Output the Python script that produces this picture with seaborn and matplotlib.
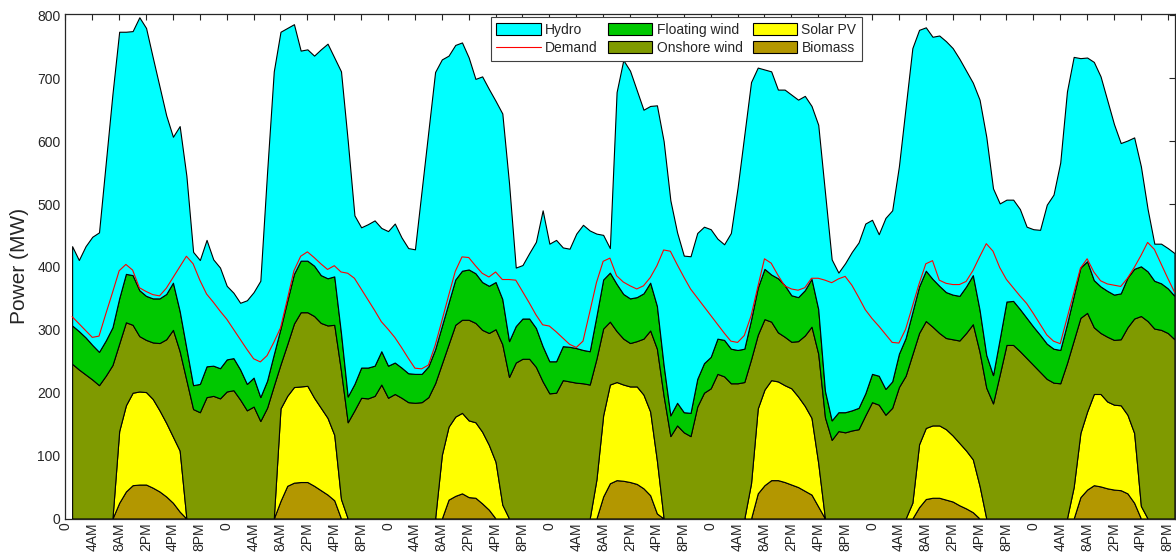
import numpy as np
import pandas as pd
import seaborn as sns
import matplotlib
matplotlib.use("Agg")
import matplotlib.pyplot as plt
from matplotlib.patches import Patch
from matplotlib.lines import Line2D

# hourly values (h = 1 .. 165), MW
hours = np.arange(1, 166)

biomass = [
    0, 0, 0, 0, 0, 0, 0, 25, 43, 53, 54, 54,
    49, 43, 35, 25, 11, 0, 0, 0, 0, 0, 0, 0,
    0, 0, 0, 0, 0, 0, 0, 28, 52, 57, 58, 58,
    52, 45, 38, 29, 0, 0, 0, 0, 0, 0, 0, 0,
    0, 0, 0, 0, 0, 0, 0, 0, 30, 36, 40, 34,
    33, 24, 14, 0, 0, 0, 0, 0, 0, 0, 0, 0,
    0, 0, 0, 0, 0, 0, 0, 35, 56, 61, 60, 58,
    55, 48, 37, 8, 0, 0, 0, 0, 0, 0, 0, 0,
    0, 0, 0, 0, 0, 0, 40, 53, 61, 61, 58, 54,
    50, 44, 38, 19, 0, 0, 0, 0, 0, 0, 0, 0,
    0, 0, 0, 0, 0, 0, 18, 31, 33, 33, 30, 27,
    21, 16, 10, 0, 0, 0, 0, 0, 0, 0, 0, 0,
    0, 0, 0, 0, 0, 0, 34, 46, 53, 51, 48, 46,
    45, 40, 25, 0, 0, 0, 0, 0, 0,
]

# upper edge of each stacked band
solar_top = [
    0, 0, 0, 0, 0, 0, 0, 139, 180, 200, 202, 201,
    190, 172, 152, 130, 108, 0, 0, 0, 0, 0, 0, 0,
    0, 0, 0, 0, 0, 0, 0, 175, 195, 209, 210, 211,
    192, 176, 160, 133, 31, 0, 0, 0, 0, 0, 0, 0,
    0, 0, 0, 0, 0, 0, 0, 101, 146, 162, 168, 156,
    153, 138, 117, 90, 22, 0, 0, 0, 0, 0, 0, 0,
    0, 0, 0, 0, 0, 0, 62, 164, 213, 217, 213, 210,
    210, 197, 170, 92, 0, 0, 0, 0, 0, 0, 0, 0,
    0, 0, 0, 0, 0, 56, 175, 205, 220, 218, 212, 207,
    194, 179, 160, 88, 0, 0, 0, 0, 0, 0, 0, 0,
    0, 0, 0, 0, 0, 25, 118, 144, 148, 148, 142, 132,
    120, 108, 94, 52, 0, 0, 0, 0, 0, 0, 0, 0,
    0, 0, 0, 0, 0, 50, 136, 170, 198, 198, 186, 181,
    180, 165, 136, 20, 0, 0, 0, 0, 0,
]

onshore_top = [
    246, 237, 229, 221, 212, 227, 244, 278, 312, 308, 290, 284,
    280, 279, 285, 300, 266, 220, 174, 169, 193, 195, 191, 202,
    204, 189, 172, 178, 155, 176, 211, 245, 277, 310, 328, 328,
    322, 311, 307, 308, 235, 153, 172, 192, 191, 195, 213, 192,
    198, 192, 185, 184, 185, 193, 215, 246, 277, 308, 316, 316,
    311, 300, 295, 301, 277, 225, 248, 254, 254, 241, 218, 199,
    200, 220, 218, 216, 215, 213, 254, 302, 313, 298, 286, 279,
    282, 286, 299, 270, 195, 131, 148, 137, 131, 178, 200, 207,
    230, 226, 215, 215, 217, 253, 292, 317, 313, 296, 289, 281,
    282, 291, 305, 262, 161, 125, 139, 137, 140, 142, 164, 185,
    181, 165, 176, 209, 227, 261, 295, 314, 305, 295, 287, 285,
    283, 295, 309, 265, 208, 183, 229, 276, 276, 266, 255, 244,
    233, 222, 216, 215, 247, 283, 319, 327, 304, 295, 289, 284,
    285, 304, 318, 322, 314, 302, 300, 295, 285,
]

floating_top = [
    307, 298, 288, 276, 265, 283, 304, 350, 389, 387, 363, 354,
    350, 350, 357, 375, 330, 271, 212, 214, 242, 243, 239, 253,
    255, 237, 214, 224, 193, 219, 261, 302, 346, 389, 410, 410,
    402, 387, 382, 385, 295, 194, 214, 240, 240, 243, 266, 243,
    248, 240, 231, 230, 230, 242, 269, 306, 343, 380, 394, 396,
    390, 376, 370, 376, 349, 282, 306, 318, 318, 303, 274, 250,
    250, 274, 273, 271, 268, 266, 322, 380, 391, 373, 357, 350,
    352, 358, 375, 338, 244, 164, 184, 169, 168, 222, 247, 257,
    286, 284, 270, 268, 270, 316, 367, 397, 388, 382, 371, 355,
    352, 363, 381, 333, 203, 156, 169, 169, 172, 176, 199, 230,
    227, 206, 218, 262, 287, 328, 369, 394, 381, 370, 360, 356,
    354, 369, 387, 332, 260, 228, 286, 345, 346, 333, 319, 305,
    292, 278, 270, 268, 309, 354, 399, 409, 379, 369, 362, 356,
    358, 383, 397, 401, 393, 378, 374, 366, 354,
]

hydro_top = [
    433, 411, 433, 448, 455, 565, 675, 774, 774, 775, 797, 780,
    733, 687, 641, 607, 624, 545, 424, 411, 443, 412, 399, 370,
    359, 343, 347, 360, 378, 550, 711, 774, 780, 786, 744, 746,
    736, 746, 755, 733, 711, 601, 482, 463, 468, 474, 462, 457,
    469, 447, 430, 428, 522, 616, 710, 730, 736, 753, 757, 733,
    699, 703, 683, 664, 644, 533, 399, 403, 422, 440, 490, 437,
    443, 431, 429, 453, 467, 458, 453, 451, 430, 678, 729, 712,
    681, 650, 656, 657, 600, 506, 455, 418, 417, 454, 464, 460,
    445, 436, 454, 526, 610, 694, 717, 714, 711, 682, 682, 674,
    666, 672, 656, 626, 519, 412, 391, 406, 424, 439, 469, 475,
    452, 478, 490, 560, 654, 748, 777, 781, 766, 768, 759, 748,
    731, 712, 693, 666, 607, 525, 501, 507, 507, 492, 464, 460,
    459, 499, 515, 566, 679, 734, 732, 733, 726, 703, 665, 627,
    597, 601, 606, 560, 492, 437, 437, 430, 422,
]

demand = [
    321, 310, 299, 288, 290, 325, 359, 394, 404, 395, 367, 361,
    356, 354, 366, 383, 400, 417, 405, 379, 357, 344, 330, 317,
    301, 285, 269, 254, 249, 259, 280, 303, 348, 394, 417, 424,
    415, 405, 396, 402, 392, 390, 382, 365, 348, 331, 313, 301,
    288, 272, 255, 239, 238, 244, 275, 314, 354, 393, 416, 415,
    402, 390, 384, 392, 380, 380, 379, 361, 343, 324, 308, 306,
    297, 287, 277, 272, 282, 328, 375, 409, 414, 386, 376, 370,
    365, 370, 383, 402, 427, 425, 404, 384, 365, 351, 337, 323,
    309, 295, 282, 280, 291, 322, 368, 413, 406, 387, 370, 365,
    363, 367, 382, 382, 379, 375, 381, 385, 371, 352, 332, 318,
    306, 293, 280, 279, 301, 337, 373, 405, 410, 379, 374, 372,
    372, 377, 394, 416, 437, 425, 399, 380, 367, 354, 342, 326,
    309, 292, 282, 278, 318, 358, 398, 413, 392, 378, 373, 371,
    369, 382, 399, 418, 439, 428, 405, 382, 360,
]

sources = ["Biomass", "Solar PV", "Onshore wind", "Floating wind", "Hydro"]
colors = {"Biomass": "#b39700", "Solar PV": "#ffff00", "Onshore wind": "#7f9a00",
          "Floating wind": "#00c800", "Hydro": "#00ffff"}
tick_names = ["0", "4AM", "8AM", "2PM", "4PM", "8PM"]

# build per-source table from the band edges
df = pd.DataFrame({"hour": hours, "Demand": demand})
df["Biomass"] = biomass
df["Solar PV"] = np.subtract(solar_top, biomass)
df["Onshore wind"] = np.subtract(onshore_top, solar_top)
df["Floating wind"] = np.subtract(floating_top, onshore_top)
df["Hydro"] = np.subtract(hydro_top, floating_top)

sns.set_theme(style="white")
plt.rcParams["font.family"] = ["Liberation Sans", "DejaVu Sans"]

W, H = 1176, 558
fig = plt.figure(figsize=(W / 100, H / 100), dpi=100)
ax = fig.add_axes([65.4 / W, 1 - 518.5 / H, (1174.5 - 65.4) / W, (518.5 - 13.5) / H])

ax.stackplot(df["hour"], [df[s] for s in sources],
             colors=[colors[s] for s in sources],
             edgecolor="black", linewidth=0.8)
sns.lineplot(data=df, x="hour", y="Demand", color="red", linewidth=0.8, ax=ax)

ax.set_xlim(0, 165)
ax.set_ylim(0, 803)
ax.set_yticks(np.arange(0, 801, 100))
xt = np.arange(0, 165, 4)
ax.set_xticks(xt)
ax.set_xticklabels([tick_names[i % 6] for i in range(len(xt))], rotation=90)
ax.tick_params(direction="in", top=True, right=True, length=4, width=0.8,
               labelsize=10, colors="#262626")
ax.tick_params(axis="x", pad=3)
for sp in ax.spines.values():
    sp.set_color("#262626")
    sp.set_linewidth(0.9)
ax.set_xlabel("")
ax.set_ylabel("Power (MW)", fontsize=15, labelpad=6)

handles = [
    Patch(facecolor=colors["Hydro"], edgecolor="black", linewidth=0.8, label="Hydro"),
    Line2D([], [], color="red", linewidth=0.8, label="Demand"),
    Patch(facecolor=colors["Floating wind"], edgecolor="black", linewidth=0.8, label="Floating wind"),
    Patch(facecolor=colors["Onshore wind"], edgecolor="black", linewidth=0.8, label="Onshore wind"),
    Patch(facecolor=colors["Solar PV"], edgecolor="black", linewidth=0.8, label="Solar PV"),
    Patch(facecolor=colors["Biomass"], edgecolor="black", linewidth=0.8, label="Biomass"),
]
leg = ax.legend(handles=handles, ncol=3, loc="upper left", bbox_to_anchor=(0.381, 0.998),
                borderaxespad=0.2, fontsize=10, handlelength=3.2, handleheight=0.95,
                handletextpad=0.3, columnspacing=0.75, labelspacing=0.3, borderpad=0.4,
                fancybox=False, framealpha=1)
leg.get_frame().set_edgecolor("#404040")
leg.get_frame().set_linewidth(0.8)

fig.savefig("out.png", dpi=100, facecolor="white")
